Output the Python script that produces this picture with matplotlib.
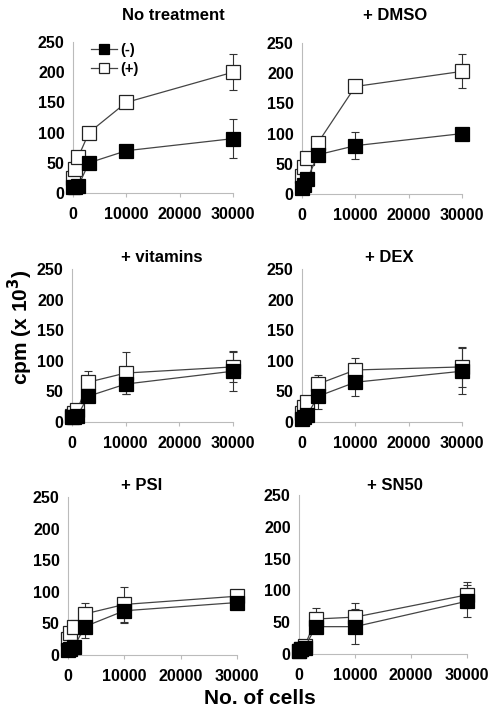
import matplotlib
matplotlib.use('Agg')
import matplotlib.pyplot as plt

plt.rcParams['font.family'] = ['Liberation Sans', 'DejaVu Sans']
plt.rcParams['font.weight'] = 'bold'

W, H = 492, 710

# data
cells = [0, 300, 1000, 3000, 10000, 30000]
titles = ['No treatment', '+ DMSO', '+ vitamins', '+ DEX', '+ PSI', '+ SN50']

minus_vals = [
    [10, 10, 12, 50, 70, 90],
    [10, 15, 25, 65, 80, 100],
    [8, 8, 10, 42, 62, 83],
    [5, 8, 12, 42, 65, 83],
    [8, 10, 12, 45, 70, 83],
    [5, 8, 10, 43, 43, 83],
]
minus_err = [
    [0, 0, 0, 3, 3, 32],
    [0, 3, 5, 5, 22, 3],
    [0, 0, 5, 8, 16, 33],
    [0, 3, 5, 20, 22, 38],
    [0, 3, 5, 18, 20, 10],
    [0, 0, 3, 5, 28, 25],
]
plus_vals = [
    [25, 40, 60, 100, 150, 200],
    [30, 45, 60, 85, 178, 203],
    [10, 15, 20, 65, 80, 90],
    [15, 25, 32, 62, 85, 90],
    [25, 35, 45, 65, 80, 93],
    [5, 8, 12, 55, 58, 93],
]
plus_err = [
    [5, 8, 10, 10, 8, 30],
    [5, 8, 8, 5, 5, 28],
    [3, 5, 8, 18, 35, 25],
    [3, 5, 8, 15, 20, 32],
    [5, 8, 10, 18, 28, 10],
    [0, 3, 5, 18, 22, 20],
]

# axes boxes in pixels: left, top, right, bottom
boxes = [
    (73, 42, 233, 193),
    (302, 43, 462, 194),
    (72, 269, 233, 422),
    (302, 269, 462, 422),
    (68, 497, 237, 655),
    (299, 495, 467, 654),
]
title_pos = [(173, 16), (395, 16), (162, 257), (389, 258), (142, 485), (395, 486)]

fig = plt.figure(figsize=(W / 100, H / 100), dpi=100)

for i in range(6):
    l, t, r, b = boxes[i]
    ax = fig.add_axes([l / W, 1 - b / H, (r - l) / W, (b - t) / H])
    ax.errorbar(cells, minus_vals[i], yerr=minus_err[i], fmt='none',
                ecolor='#333333', elinewidth=0.8, capsize=3, capthick=0.8, clip_on=False)
    ax.errorbar(cells, plus_vals[i], yerr=plus_err[i], fmt='none',
                ecolor='#333333', elinewidth=0.8, capsize=3, capthick=0.8, clip_on=False)
    ax.plot(cells, plus_vals[i], color='#444444', lw=0.9, marker='s', ms=10.5,
            mfc='white', mec='#222222', mew=0.9, clip_on=False, label='(+)', zorder=3)
    ax.plot(cells, minus_vals[i], color='#444444', lw=0.9, marker='s', ms=10.5,
            mfc='black', mec='black', mew=0.9, clip_on=False, label='(-)', zorder=4)
    ax.set_xlim(0, 30000)
    ax.set_ylim(0, 250)
    ax.set_xticks([0, 10000, 20000, 30000])
    ax.set_yticks([0, 50, 100, 150, 200, 250])
    for s in ['top', 'right']:
        ax.spines[s].set_visible(False)
    for s in ['left', 'bottom']:
        ax.spines[s].set_color('#bbbbbb')
        ax.spines[s].set_linewidth(0.8)
    ax.tick_params(axis='both', length=3, width=0.8, color='#bbbbbb', labelsize=11.5, pad=3)
    ax.tick_params(axis='y', length=0, pad=6)
    ax.tick_params(axis='x', pad=7)
    for lab in ax.get_xticklabels() + ax.get_yticklabels():
        lab.set_fontweight('bold')
    tx, ty = title_pos[i]
    fig.text(tx / W, 1 - ty / H, titles[i], ha='center', va='center',
             fontsize=12, fontweight='bold')
    if i == 0:
        h, lb = ax.get_legend_handles_labels()
        ax.legend(h[::-1], lb[::-1], loc='upper left', bbox_to_anchor=(0.03, 1.08),
                  frameon=False, markerscale=0.65, handlelength=1.8,
                  handletextpad=0.2, labelspacing=0.35, prop={'weight': 'bold', 'size': 10.5})

fig.text(20 / W, 1 - 327 / H, 'cpm (x 10$^\\mathbf{3}$)', rotation=90, ha='center', va='center',
         fontsize=15, fontweight='bold')
fig.text(260 / W, 1 - 698 / H, 'No. of cells', ha='center', va='center',
         fontsize=15, fontweight='bold')

fig.savefig('out.png', dpi=100)
